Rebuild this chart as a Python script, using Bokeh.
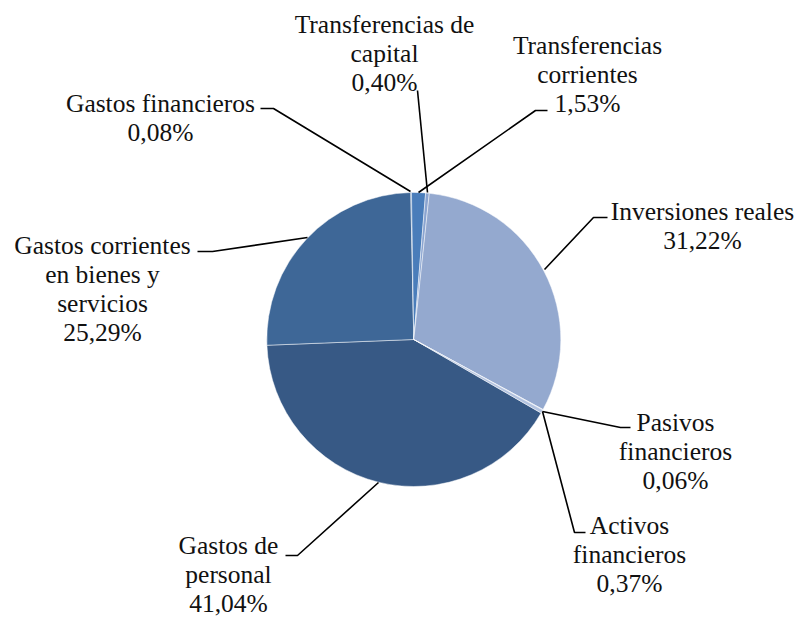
import math
from bokeh.plotting import figure
from bokeh.models import Range1d, ColumnDataSource
from bokeh.core.properties import value
from bokeh.embed import file_html
from bokeh.resources import INLINE

# ---- data (clockwise order as drawn) ----
categories = ["Gastos de personal", "Gastos corrientes en bienes y servicios",
              "Gastos financieros", "Transferencias corrientes",
              "Transferencias de capital", "Inversiones reales",
              "Pasivos financieros", "Activos financieros"]
label_names = ["Gastos de\npersonal", "Gastos corrientes\nen bienes y\nservicios",
               "Gastos financieros", "Transferencias\ncorrientes",
               "Transferencias de\ncapital", "Inversiones reales",
               "Pasivos\nfinancieros", "Activos\nfinancieros"]
shares = [41.04, 25.29, 0.08, 1.53, 0.40, 31.22, 0.06, 0.37]
colors = ["#375985", "#3E6797", "#4672AA", "#4A7DBA", "#8AA4D0",
          "#94A9CF", "#C4D0E6", "#B3C3E0"]

# ---- layout (screen pixels) ----
W, H = 798, 620
START_CW = 120.0          # clockwise degrees from 12 o'clock where first slice begins
CX, CY, R = 413.3, 339.0, 147.0

def Y(py):
    return H - py

# label anchor: centre x, first line centre y
label_pos = [(228, 545), (102, 245), (160, 103), (587, 45),
             (384, 24), (702, 211), (675, 422), (629, 525)]
leaders = [
    [(285, 555), (297, 555), (378, 482)],
    [(197, 251), (212, 251), (307, 237)],
    [(260, 108), (273, 108), (410, 191)],
    [(547, 110), (535, 110), (418, 192)],
    [(417, 90), (427, 192)],
    [(607, 217), (593, 217), (544, 269)],
    [(630, 427), (620, 427), (542, 411)],
    [(585, 532), (574, 532), (542, 411)],
]
LINE_H = 29.0

p = figure(width=W, height=H, output_backend="svg", toolbar_location=None,
           x_range=Range1d(0, W), y_range=Range1d(0, H),
           min_border=0, border_fill_color="white", background_fill_color="white")
p.axis.visible = False
p.grid.visible = False
p.outline_line_color = None

total = sum(shares)
starts, ends = [], []
acc = START_CW
for s in shares:
    a0 = acc
    a1 = acc + s / total * 360.0
    starts.append(math.radians(90.0 - a0))
    ends.append(math.radians(90.0 - a1))
    acc = a1

src = ColumnDataSource(dict(start=starts, end=ends, color=colors, cat=categories))
p.wedge(x=CX, y=Y(CY), radius=R, start_angle="start", end_angle="end",
        direction="clock", fill_color="color", line_color="white",
        line_width=0.6, line_alpha=0.8, source=src)

# leader lines
p.multi_line(xs=[[pt[0] for pt in l] for l in leaders],
             ys=[[Y(pt[1]) for pt in l] for l in leaders],
             line_color="black", line_width=1.6)

# labels: one text glyph per line
for name, s, (lx, ly) in zip(label_names, shares, label_pos):
    lines = name.split("\n") + [f"{s:.2f}".replace(".", ",") + "%"]
    for i, ln in enumerate(lines):
        p.text(x=[lx], y=[Y(ly + i * LINE_H)], text=[ln],
               text_align="center", text_baseline="middle",
               text_font=value("Liberation Serif"), text_font_size="25.5px",
               text_color="#111111")

open("out.html", "w").write(file_html(p, INLINE))
